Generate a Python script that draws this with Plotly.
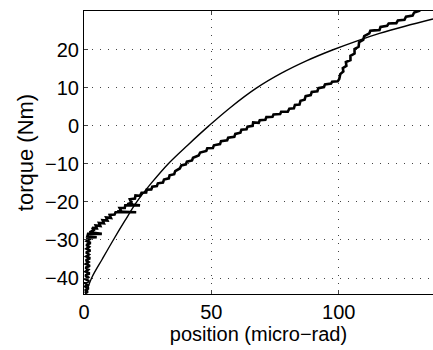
import plotly.graph_objects as go

# Smooth model curve
model_x = [0.8, 3, 7.2, 11.5, 16, 20.7, 26.5, 33, 40.8, 49, 57.5, 67.5, 77.5, 87.5, 97.5, 107, 116, 126, 137]
model_y = [-44, -40, -35, -30, -25, -20, -15, -10, -5, 0, 4.85, 9.85, 13.85, 17.15, 19.95, 22.3, 24.3, 26.2, 28.1]

meas_pts = [
    (0.3, -44.0), (1.5, -43.6), (0.4, -43.2), (1.8, -42.7), (0.5, -42.2), (1.4, -41.8), (0.4, -41.3),
    (2.0, -40.8), (0.6, -40.3), (1.6, -39.8), (0.5, -39.3), (2.2, -38.8), (0.7, -38.3), (1.7, -37.8),
    (0.6, -37.3), (2.3, -36.8), (0.8, -36.3), (1.8, -35.8), (0.7, -35.3), (2.4, -34.8), (0.9, -34.3),
    (1.9, -33.8), (0.8, -33.3), (2.5, -32.8), (1.0, -32.3), (2.0, -31.8), (0.9, -31.3), (2.6, -30.8),
    (1.1, -30.3), (2.2, -29.8), (1.0, -29.4), (5.0, -29.3), (1.3, -29.1), (1.6, -28.4), (7.0, -28.4),
    (2.2, -28.0), (3.8, -27.4), (3.2, -26.8), (5.0, -26.9), (4.6, -26.2), (6.4, -26.3), (5.9, -25.5),
    (7.8, -25.6), (7.3, -24.8), (9.2, -24.9), (8.7, -24.1), (10.6, -24.2), (10.1, -23.4), (12.0, -23.3),
    (12.4, -22.7), (20.5, -22.7), (13.0, -22.5), (14.6, -22.4), (14.0, -21.6), (16.0, -21.6), (16.2, -20.9),
    (22.0, -20.9), (17.0, -20.6), (18.6, -20.2), (18.0, -19.3), (20.0, -19.1), (20.2, -18.3), (22.0, -18.4),
    (22.6, -17.6), (24.4, -17.5), (24.6, -16.8), (26.4, -16.7), (26.8, -16.0), (28.6, -15.8), (29.0, -15.1),
    (31.0, -14.9), (31.4, -14.1), (33.3, -13.8), (33.6, -13.0), (35.4, -12.7), (35.8, -11.9), (37.6, -11.2),
    (38.2, -10.4), (40.0, -10.1), (40.4, -9.4), (42.4, -9.1), (42.8, -8.4), (45.0, -7.8), (45.6, -7.0),
    (48.0, -6.6), (48.4, -5.9), (50.6, -5.8), (51.0, -5.1), (53.4, -4.8), (53.8, -4.0), (56.2, -3.8),
    (56.6, -3.1), (59.0, -2.9), (59.4, -2.1), (61.4, -1.8), (61.8, -1.0), (63.8, -0.9), (64.2, -0.2),
    (66.2, 0.0), (66.4, 0.9), (68.6, 0.8), (69.0, 1.5), (71.2, 1.6), (71.6, 2.3), (74.0, 2.4), (74.4, 3.0),
    (77.0, 3.1), (77.4, 3.7), (80.0, 3.7), (80.6, 4.5), (82.4, 4.6), (82.8, 5.5), (84.6, 5.6), (85.0, 6.6),
    (86.6, 6.9), (87.0, 7.8), (89.0, 8.1), (89.4, 8.9), (91.6, 9.1), (92.0, 9.9), (94.2, 10.2), (94.6, 10.9),
    (97.0, 11.1), (97.4, 11.6), (99.6, 11.7), (100.2, 12.3), (100.6, 13.6), (101.8, 14.3), (101.6, 15.2),
    (103.0, 15.8), (102.8, 16.8), (104.6, 17.3), (104.6, 18.4), (106.2, 19.0), (106.2, 20.2), (107.8, 20.8),
    (108.0, 22.0), (109.6, 22.6), (110.0, 23.6), (112.0, 24.3), (112.4, 25.0), (114.0, 25.1), (116.0, 25.2),
    (116.4, 26.0), (119.0, 26.3), (119.6, 26.9), (122.6, 27.0), (123.2, 27.7), (125.8, 27.9), (126.4, 28.7),
    (129.0, 29.0), (129.6, 29.8), (132.0, 30.3),
]
meas_x = [p[0] for p in meas_pts]
meas_y = [p[1] for p in meas_pts]

fig = go.Figure()
fig.add_trace(go.Scatter(x=meas_x, y=meas_y, mode="lines",
                         line=dict(color="black", width=2.6), showlegend=False))
fig.add_trace(go.Scatter(x=model_x, y=model_y, mode="lines",
                         line=dict(color="black", width=1.4, shape="spline", smoothing=1.0), showlegend=False))

family = "Liberation Sans, Arial, Helvetica, sans-serif"
font = dict(family=family, size=20, color="black")

fig.update_layout(
    width=433, height=350,
    margin=dict(l=84, r=0, t=11, b=56),
    paper_bgcolor="white", plot_bgcolor="white",
    font=font,
    xaxis=dict(range=[0, 137], tickvals=[0, 50, 100], ticks="inside", ticklen=4,
               showline=True, linecolor="black", linewidth=1, mirror="ticks",
               showgrid=True, gridcolor="#444", gridwidth=1, griddash="1px,7px",
               zeroline=False,
               title=dict(text="position (micro\u2212rad)", standoff=2,
                          font=dict(family=family, size=20, color="black")),
               tickfont=font),
    yaxis=dict(range=[-44.2, 30.2], tickvals=[-40, -30, -20, -10, 0, 10, 20], ticks="inside", ticklen=4,
               showline=True, linecolor="black", linewidth=1, mirror=False,
               showgrid=True, gridcolor="#444", gridwidth=1, griddash="1px,7px",
               zeroline=False,
               title=dict(text="torque (Nm)", standoff=5,
                          font=dict(family=family, size=22, color="black")),
               tickfont=font),
)
fig.write_html("out.html")
